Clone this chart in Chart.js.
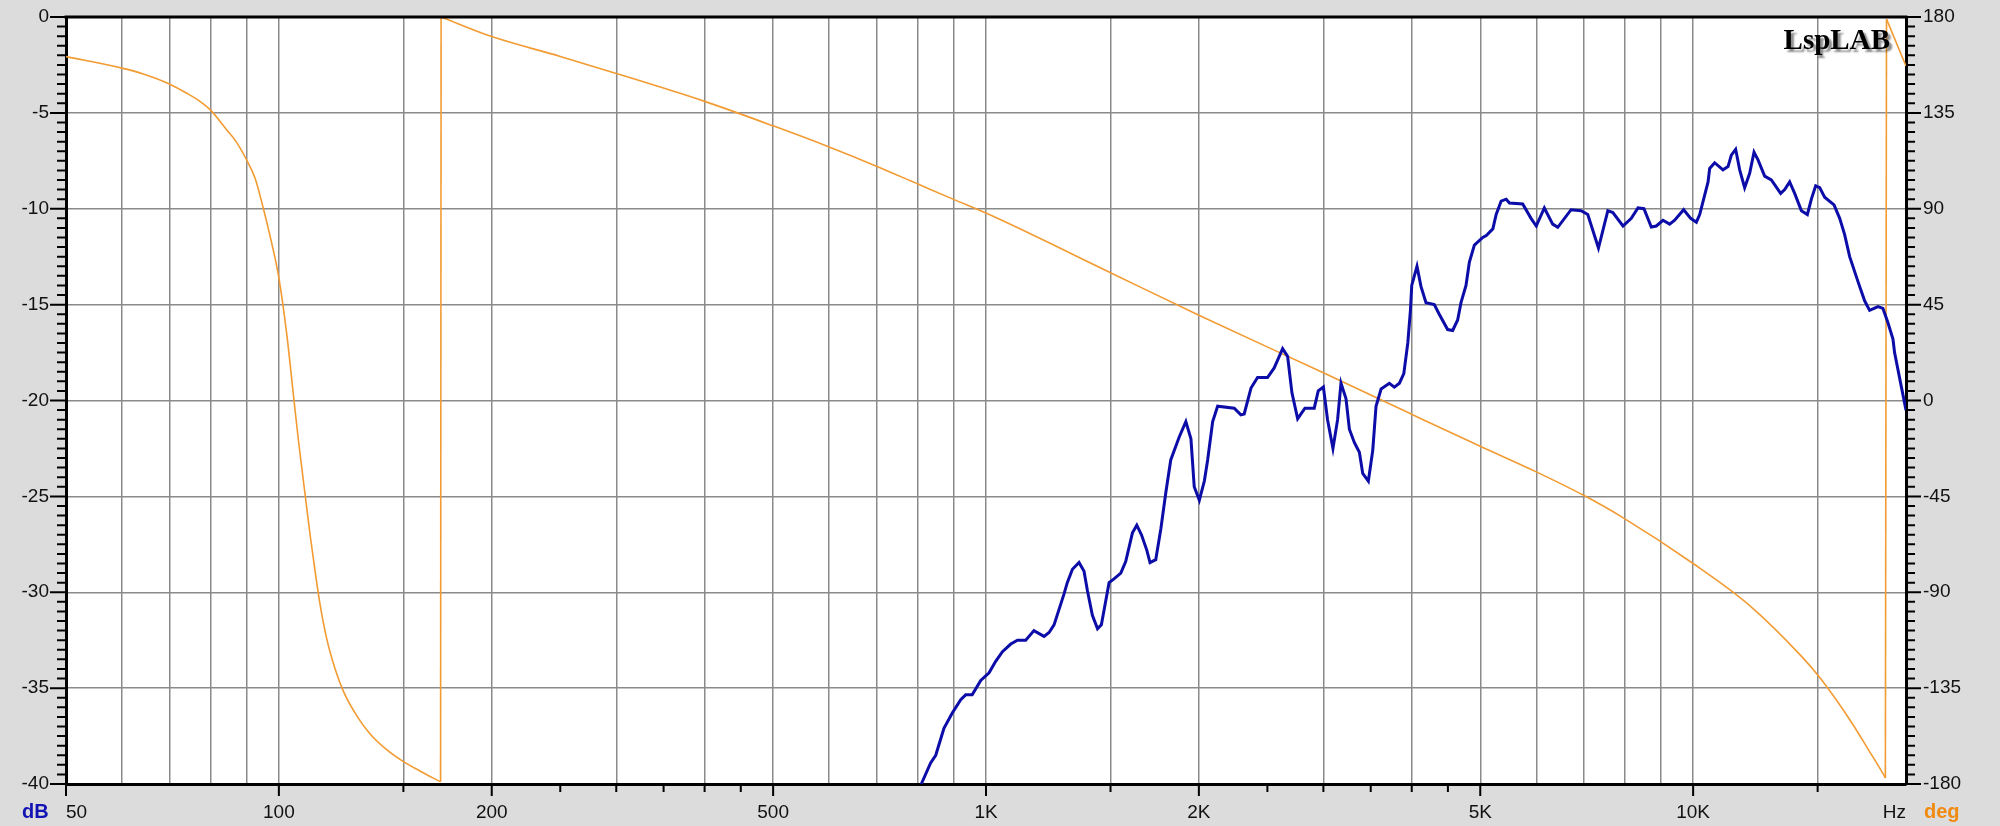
<!DOCTYPE html>
<html>
<head>
<meta charset="utf-8">
<style>
html,body{margin:0;padding:0;background:#dcdcdc;overflow:hidden}
#wrap{width:2000px;height:826px}
</style>
<script src="https://cdn.jsdelivr.net/npm/chart.js@4.4.0/dist/chart.umd.min.js"></script>
</head>
<body>
<div id="wrap"><canvas id="c" width="2000" height="826"></canvas></div>
<script>
// ---- magnitude (dB) ----
const magFreq = [810, 835, 849, 872, 896, 921, 936, 956, 983, 1010, 1032, 1055, 1084, 1108, 1138, 1169, 1208, 1228, 1248, 1289, 1303, 1325, 1354, 1376, 1391, 1414, 1438, 1456, 1493, 1517, 1551, 1576, 1611, 1634, 1659, 1688, 1706, 1738, 1767, 1796, 1825, 1876, 1917, 1949, 1970, 2003, 2036, 2058, 2092, 2126, 2244, 2293, 2318, 2370, 2421, 2501, 2556, 2627, 2670, 2708, 2759, 2825, 2853, 2912, 2950, 3000, 3041, 3095, 3142, 3177, 3229, 3265, 3319, 3373, 3410, 3473, 3523, 3561, 3620, 3719, 3780, 3843, 3898, 3949, 3983, 4000, 4069, 4122, 4190, 4305, 4375, 4496, 4570, 4645, 4696, 4773, 4825, 4905, 5041, 5099, 5209, 5266, 5352, 5440, 5499, 5741, 5899, 6000, 6160, 6330, 6435, 6720, 6943, 7096, 7347, 7575, 7700, 7958, 8176, 8356, 8520, 8727, 8870, 9065, 9264, 9416, 9696, 9920, 10106, 10216, 10498, 10553, 10727, 11021, 11203, 11325, 11485, 11637, 11826, 12021, 12193, 12353, 12623, 12900, 13298, 13474, 13693, 13918, 14225, 14506, 14696, 14904, 15100, 15346, 15822, 16116, 16378, 16648, 17106, 17480, 17765, 18256, 18553, 18859, 19169, 19270, 19691, 20000];
const magDb = [-40.0, -38.9, -38.5, -37.1, -36.3, -35.6, -35.35, -35.35, -34.6, -34.2, -33.6, -33.1, -32.7, -32.5, -32.5, -32.0, -32.3, -32.1, -31.7, -30.1, -29.5, -28.8, -28.45, -28.9, -29.9, -31.2, -31.9, -31.7, -29.5, -29.3, -29.0, -28.4, -26.9, -26.5, -27.0, -27.8, -28.45, -28.3, -26.7, -24.8, -23.1, -21.9, -21.1, -22.0, -24.5, -25.2, -24.2, -23.1, -21.1, -20.3, -20.4, -20.75, -20.7, -19.35, -18.8, -18.8, -18.3, -17.3, -17.7, -19.6, -20.95, -20.4, -20.4, -20.4, -19.5, -19.3, -21.0, -22.5, -21.0, -19.1, -19.9, -21.5, -22.2, -22.7, -23.8, -24.2, -22.6, -20.3, -19.4, -19.1, -19.3, -19.1, -18.6, -17.0, -15.3, -14.0, -13.0, -14.05, -14.9, -15.0, -15.5, -16.3, -16.35, -15.8, -14.9, -14.0, -12.8, -11.9, -11.5, -11.4, -11.05, -10.3, -9.6, -9.5, -9.7, -9.75, -10.5, -10.9, -9.96, -10.8, -10.97, -10.05, -10.1, -10.3, -12.05, -10.1, -10.2, -10.9, -10.5, -9.96, -10.0, -10.95, -10.9, -10.6, -10.8, -10.6, -10.05, -10.5, -10.7, -10.3, -8.6, -7.9, -7.6, -7.97, -7.8, -7.2, -6.9, -7.97, -8.9, -8.15, -7.05, -7.45, -8.3, -8.5, -9.2, -9.0, -8.6, -9.2, -10.1, -10.3, -9.5, -8.8, -8.9, -9.4, -9.8, -10.5, -11.35, -12.5, -13.8, -14.8, -15.3, -15.1, -15.2, -15.95, -16.8, -17.5, -19.25, -20.5];

// ---- phase (deg), wraps at +/-180 ----
const phaseFreq = [50, 60, 64.3, 70, 74.1, 77.4, 80, 84.4, 87, 90, 92.5, 95.1, 97.2, 100, 102.7, 104.9, 106.6, 109, 110.7, 112.5, 114.4, 116.9, 120.1, 123.4, 128.9, 134.6, 142.2, 150, 158.5, 169.3, 169.6, 200, 250, 300, 400, 500, 600, 700, 800, 900, 1000, 1500, 2000, 3000, 4000, 5000, 6000, 7000, 7914, 10000, 12000, 14225, 15181, 16743, 17675, 18620, 18700, 18770, 20000];
const phaseDeg = [161.4, 156, 153.3, 148.6, 144.2, 140.3, 136.4, 127, 121.5, 113, 104.5, 90, 77, 57.6, 30, 2, -19, -45, -63, -80, -96, -112, -126, -136.5, -148, -156.5, -164, -169.5, -174, -179, 180, 170.8, 161.5, 153.5, 140.4, 128.9, 119, 110, 101.7, 94.4, 88, 60, 40, 13, -6.5, -21.5, -33.5, -44.5, -54.5, -76.5, -96, -120, -131, -151, -163.6, -176, -177.2, 179, 157];

// ---- axes ----
const xLabelValues = [50, 100, 200, 500, 1000, 2000, 5000, 10000, 20000];
const xLabels = ['50', '100', '200', '500', '1K', '2K', '5K', '10K', 'Hz'];
const xGridValues = [60, 70, 80, 90, 100, 150, 200, 300, 400, 500, 600, 700, 800, 900, 1000, 1500, 2000, 3000, 4000, 5000, 6000, 7000, 8000, 9000, 10000, 15000];
const xMajorTickValues = [50, 100, 200, 500, 1000, 2000, 5000, 10000];
const xMinorTickValues = [150, 250, 300, 350, 400, 450, 1500, 2500, 3000, 3500, 4000, 4500, 15000];
const dbTickStep = 5, dbMinorStep = 0.5;
const degTickStep = 45, degMinorStep = 4.5;

const GRID = '#8a8a8a';
const FONT = '"Liberation Sans", Arial, sans-serif';
const BLUE = '#0c0ca8';
const ORANGE = '#f29b32';

// split phase into continuous pieces and the vertical wrap jumps
const phasePieces = [], phaseJumps = [];
(function () {
  let cur = [];
  for (let i = 0; i < phaseFreq.length; i++) {
    const p = {x: phaseFreq[i], y: phaseDeg[i]};
    if (i > 0 && Math.abs(phaseDeg[i] - phaseDeg[i - 1]) > 180) {
      phasePieces.push(cur);
      phaseJumps.push([{x: phaseFreq[i - 1], y: phaseDeg[i - 1]}, p]);
      cur = [];
    }
    cur.push(p);
  }
  phasePieces.push(cur);
})();

const decor = {
  id: 'decor',
  beforeDraw(chart) {
    const {ctx, chartArea: a} = chart;
    ctx.save();
    ctx.fillStyle = '#dcdcdc';
    ctx.fillRect(0, 0, chart.width, chart.height);
    ctx.fillStyle = '#ffffff';
    ctx.fillRect(a.left, a.top, a.right - a.left, a.bottom - a.top);
    ctx.restore();
  },
  afterDraw(chart) {
    const {ctx, chartArea: a, scales} = chart;
    ctx.save();
    // logo
    ctx.font = 'bold 29px "Liberation Serif", "Times New Roman", serif';
    ctx.textAlign = 'right';
    ctx.textBaseline = 'alphabetic';
    ctx.shadowColor = 'rgba(0,0,0,0.45)';
    ctx.shadowOffsetX = 3; ctx.shadowOffsetY = 3; ctx.shadowBlur = 2;
    ctx.fillStyle = '#000';
    ctx.fillText('LspLAB', 1890, 49);
    ctx.shadowColor = 'transparent'; ctx.shadowBlur = 0; ctx.shadowOffsetX = 0; ctx.shadowOffsetY = 0;

    // top frame
    ctx.strokeStyle = '#000';
    ctx.lineWidth = 3;
    ctx.beginPath();
    ctx.moveTo(a.left - 1.5, a.top); ctx.lineTo(a.right + 1.5, a.top);
    ctx.stroke();

    // tick marks
    ctx.lineWidth = 2;
    ctx.beginPath();
    xMajorTickValues.forEach(v => { const p = scales.x.getPixelForValue(v); ctx.moveTo(p, a.bottom); ctx.lineTo(p, a.bottom + 12); });
    xMinorTickValues.forEach(v => { const p = scales.x.getPixelForValue(v); ctx.moveTo(p, a.bottom); ctx.lineTo(p, a.bottom + 8); });
    for (let v = -40; v <= 0.001; v += dbMinorStep) {
      const p = scales.y.getPixelForValue(v);
      const major = Math.abs(v / dbTickStep - Math.round(v / dbTickStep)) < 1e-6;
      ctx.moveTo(a.left, p); ctx.lineTo(a.left - (major ? 16 : 9), p);
    }
    for (let v = -180; v <= 180.001; v += degMinorStep) {
      const p = scales.y2.getPixelForValue(v);
      const major = Math.abs(v / degTickStep - Math.round(v / degTickStep)) < 1e-6;
      ctx.moveTo(a.right, p); ctx.lineTo(a.right + (major ? 15 : 9), p);
    }
    ctx.stroke();

    // unit labels
    ctx.textBaseline = 'alphabetic';
    ctx.font = 'bold 20px ' + FONT;
    ctx.textAlign = 'left';
    ctx.fillStyle = '#1414b4';
    ctx.fillText('dB', 22, 818);
    ctx.fillStyle = '#f08a10';
    ctx.fillText('deg', 1924, 818);
    ctx.restore();
  }
};

const datasets = [{
  label: 'Magnitude',
  data: magFreq.map((f, i) => ({x: f, y: magDb[i]})),
  yAxisID: 'y',
  borderColor: BLUE,
  borderWidth: 3,
  pointRadius: 0,
  tension: 0,
  fill: false,
  order: 1
}];
phasePieces.forEach((piece, k) => datasets.push({
  label: 'Phase ' + (k + 1),
  data: piece,
  yAxisID: 'y2',
  borderColor: ORANGE,
  borderWidth: 1.6,
  pointRadius: 0,
  cubicInterpolationMode: 'monotone',
  fill: false,
  order: 2
}));
phaseJumps.forEach((jump, k) => datasets.push({
  label: 'Phase wrap ' + (k + 1),
  data: jump,
  yAxisID: 'y2',
  borderColor: ORANGE,
  borderWidth: 1.6,
  pointRadius: 0,
  tension: 0,
  fill: false,
  order: 2
}));

new Chart(document.getElementById('c'), {
  type: 'line',
  data: {datasets},
  options: {
    responsive: false,
    animation: false,
    devicePixelRatio: 1,
    layout: {padding: {top: 17, left: 0, right: 0, bottom: 0}},
    plugins: {legend: {display: false}, tooltip: {enabled: false}},
    scales: {
      x: {
        type: 'logarithmic',
        position: 'bottom',
        min: 50, max: 20000,
        afterBuildTicks: s => {
          const vals = Array.from(new Set(xGridValues.concat(xLabelValues))).sort((a, b) => a - b);
          s.ticks = vals.map(v => ({value: v}));
        },
        afterFit: s => { s.height = 42; s.paddingLeft = 0; s.paddingRight = 0; },
        grid: {
          color: c => (c.tick && xGridValues.includes(c.tick.value)) ? GRID : 'rgba(0,0,0,0)',
          lineWidth: 1.5,
          drawTicks: false
        },
        border: {display: true, color: '#000', width: 3},
        ticks: {
          autoSkip: false, maxRotation: 0, minRotation: 0, padding: 17, align: 'inner',
          color: '#111', font: {family: FONT, size: 19},
          callback: v => { const i = xLabelValues.indexOf(v); return i >= 0 ? xLabels[i] : ''; }
        }
      },
      y: {
        type: 'linear',
        position: 'left',
        min: -40, max: 0,
        afterFit: s => { s.width = 66; s.paddingTop = 0; s.paddingBottom = 0; },
        grid: {color: GRID, lineWidth: 1.5, drawTicks: false},
        border: {display: true, color: '#000', width: 3},
        ticks: {stepSize: dbTickStep, padding: 17, color: '#111', font: {family: FONT, size: 19}}
      },
      y2: {
        type: 'linear',
        position: 'right',
        min: -180, max: 180,
        afterFit: s => { s.width = 94; s.paddingTop = 0; s.paddingBottom = 0; },
        grid: {display: false, drawOnChartArea: false, drawTicks: false},
        border: {display: true, color: '#000', width: 3},
        ticks: {stepSize: degTickStep, padding: 17, color: '#111', font: {family: FONT, size: 19}}
      }
    }
  },
  plugins: [decor]
});
</script>
</body>
</html>
